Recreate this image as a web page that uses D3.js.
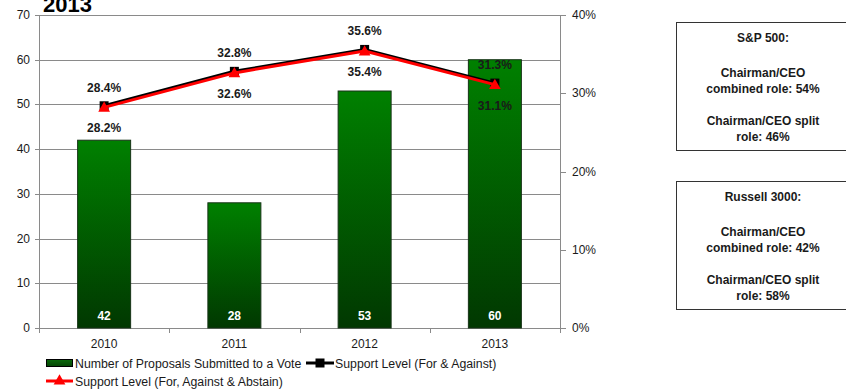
<!DOCTYPE html>
<html>
<head>
<meta charset="utf-8">
<script src="https://cdn.jsdelivr.net/npm/d3@7"></script>
<style>
  html, body { margin: 0; padding: 0; background: #fff; }
  svg { display: block; font-family: "Liberation Sans", Arial, sans-serif; }
</style>
</head>
<body>
<svg id="chart" width="846" height="390"></svg>
<script>
// Independent chair proposals by proxy year
const years = ["2010", "2011", "2012", "2013"];
const proposals = [42, 28, 53, 60];
const supportForAgainst = [28.4, 32.8, 35.6, 31.3];
const supportWithAbstain = [28.2, 32.6, 35.4, 31.1];
const countTicks = [0, 10, 20, 30, 40, 50, 60, 70];
const pctTicks = [0, 10, 20, 30, 40];

const seriesNames = [
  "Number of Proposals Submitted to a Vote",
  "Support Level (For & Against)",
  "Support Level (For, Against & Abstain)"
];

const boxTitles = ["S&P 500:", "Russell 3000:"];
const combinedRole = [54, 42];
const splitRole = [46, 58];

const svg = d3.select("#chart");
const plot = { left: 39, right: 560, top: 15, bottom: 328 };
const textColor = "#1a1a1a";
const gridColor = "#8a8a8a";

const x = d3.scaleBand().domain(years).range([plot.left, plot.right]).paddingInner(0).paddingOuter(0);
const yCount = d3.scaleLinear().domain([0, 70]).range([plot.bottom, plot.top]);
const yPct = d3.scaleLinear().domain([0, 40]).range([plot.bottom, plot.top]);

// gradients for bars and legend swatch
const defs = svg.append("defs");
const barGrad = defs.append("linearGradient").attr("id", "barGrad")
  .attr("x1", 0).attr("y1", 0).attr("x2", 0).attr("y2", 1);
barGrad.append("stop").attr("offset", "0%").attr("stop-color", "#008000");
barGrad.append("stop").attr("offset", "100%").attr("stop-color", "#013801");
const swGrad = defs.append("linearGradient").attr("id", "swGrad")
  .attr("x1", 0).attr("y1", 0).attr("x2", 0).attr("y2", 1);
swGrad.append("stop").attr("offset", "0%").attr("stop-color", "#0b6a0b");
swGrad.append("stop").attr("offset", "100%").attr("stop-color", "#044404");

// title fragment at top-left
svg.append("text").attr("x", 43).attr("y", 12)
  .attr("font-size", 22).attr("font-weight", "bold").attr("fill", "#000")
  .text("2013");

// horizontal gridlines (left scale), extended left as tick marks
svg.append("g").selectAll("line").data(countTicks).join("line")
  .attr("x1", plot.left - 4).attr("x2", plot.right)
  .attr("y1", d => Math.round(yCount(d)) + 0.5).attr("y2", d => Math.round(yCount(d)) + 0.5)
  .attr("stroke", gridColor).attr("stroke-width", 1);

// left axis labels
svg.append("g").selectAll("text").data(countTicks).join("text")
  .attr("x", plot.left - 9).attr("y", d => yCount(d) + 4)
  .attr("text-anchor", "end").attr("font-size", 12).attr("fill", textColor)
  .text(d => d);

// axis lines
svg.append("line").attr("x1", plot.left + 0.5).attr("x2", plot.left + 0.5)
  .attr("y1", plot.top).attr("y2", plot.bottom).attr("stroke", gridColor);
svg.append("line").attr("x1", plot.right + 0.5).attr("x2", plot.right + 0.5)
  .attr("y1", plot.top).attr("y2", plot.bottom).attr("stroke", gridColor);

// right axis ticks and labels
svg.append("g").selectAll("line").data(pctTicks).join("line")
  .attr("x1", plot.right).attr("x2", plot.right + 6)
  .attr("y1", d => Math.round(yPct(d)) + 0.5).attr("y2", d => Math.round(yPct(d)) + 0.5)
  .attr("stroke", gridColor);
svg.append("g").selectAll("text").data(pctTicks).join("text")
  .attr("x", plot.right + 12).attr("y", d => yPct(d) + 4)
  .attr("font-size", 12).attr("fill", textColor)
  .text(d => d + "%");

// category tick marks under the baseline
const bounds = years.map(d => x(d)).concat([plot.right]);
svg.append("g").selectAll("line").data(bounds).join("line")
  .attr("x1", d => Math.round(d) + 0.5).attr("x2", d => Math.round(d) + 0.5)
  .attr("y1", plot.bottom).attr("y2", plot.bottom + 5)
  .attr("stroke", gridColor);

// category labels
svg.append("g").selectAll("text").data(years).join("text")
  .attr("x", d => x(d) + x.bandwidth() / 2).attr("y", plot.bottom + 20)
  .attr("text-anchor", "middle").attr("font-size", 12).attr("fill", textColor)
  .text(d => d);

// bars
const barW = 53;
svg.append("g").selectAll("rect").data(proposals).join("rect")
  .attr("x", (d, i) => x(years[i]) + x.bandwidth() / 2 - barW / 2)
  .attr("y", d => yCount(d))
  .attr("width", barW)
  .attr("height", d => yCount(0) - yCount(d))
  .attr("fill", "url(#barGrad)")
  .attr("stroke", "#173317").attr("stroke-width", 1);

// bar value labels
svg.append("g").selectAll("text").data(proposals).join("text")
  .attr("x", (d, i) => x(years[i]) + x.bandwidth() / 2)
  .attr("y", plot.bottom - 8)
  .attr("text-anchor", "middle").attr("font-size", 12).attr("font-weight", "bold")
  .attr("fill", "#fff")
  .text(d => d);

// support lines
const cx = i => x(years[i]) + x.bandwidth() / 2;
const line = d3.line().x((d, i) => cx(i)).y(d => yPct(d));

svg.append("path").datum(supportForAgainst).attr("d", line)
  .attr("fill", "none").attr("stroke", "#000").attr("stroke-width", 3);
svg.append("g").selectAll("rect").data(supportForAgainst).join("rect")
  .attr("x", (d, i) => cx(i) - 4.5).attr("y", d => yPct(d) - 4.5)
  .attr("width", 9).attr("height", 9).attr("fill", "#000");

svg.append("path").datum(supportWithAbstain).attr("d", line)
  .attr("fill", "none").attr("stroke", "#ff0000").attr("stroke-width", 3);
const tri = d3.symbol().type(d3.symbolTriangle).size(60);
svg.append("g").selectAll("path").data(supportWithAbstain).join("path")
  .attr("d", tri)
  .attr("transform", (d, i) => `translate(${cx(i)},${yPct(d) + 1})`)
  .attr("fill", "#ff0000");

// line value labels
svg.append("g").selectAll("text").data(supportForAgainst).join("text")
  .attr("x", (d, i) => cx(i)).attr("y", d => yPct(d) - 14)
  .attr("text-anchor", "middle").attr("font-size", 12).attr("font-weight", "bold")
  .attr("fill", textColor)
  .text(d => d.toFixed(1) + "%");
svg.append("g").selectAll("text").data(supportWithAbstain).join("text")
  .attr("x", (d, i) => cx(i)).attr("y", d => yPct(d) + 25)
  .attr("text-anchor", "middle").attr("font-size", 12).attr("font-weight", "bold")
  .attr("fill", textColor)
  .text(d => d.toFixed(1) + "%");

// legend
const lg = svg.append("g").attr("font-size", 12.3).attr("fill", textColor);
lg.append("rect").attr("x", 46.5).attr("y", 359.5).attr("width", 26).attr("height", 7)
  .attr("fill", "url(#swGrad)").attr("stroke", "#000");
lg.append("text").attr("x", 75).attr("y", 368).text(seriesNames[0]);

lg.append("line").attr("x1", 306).attr("x2", 334).attr("y1", 363).attr("y2", 363)
  .attr("stroke", "#000").attr("stroke-width", 3);
lg.append("rect").attr("x", 315.5).attr("y", 358.5).attr("width", 9).attr("height", 9).attr("fill", "#000");
lg.append("text").attr("x", 335).attr("y", 368).text(seriesNames[1]);

lg.append("line").attr("x1", 46).attr("x2", 73).attr("y1", 381).attr("y2", 381)
  .attr("stroke", "#ff0000").attr("stroke-width", 3);
lg.append("path").attr("d", tri).attr("transform", "translate(59.5,381)").attr("fill", "#ff0000");
lg.append("text").attr("x", 75).attr("y", 386).text(seriesNames[2]);

// index composition boxes
const boxTops = [22, 181];
boxTitles.forEach((t, i) => {
  const top = boxTops[i];
  const g = svg.append("g");
  g.append("rect").attr("x", 676.5).attr("y", top + 0.5).attr("width", 180).attr("height", 128)
    .attr("fill", "#fff").attr("stroke", "#333").attr("stroke-width", 1);
  const lines = [
    [t, 20],
    ["Chairman/CEO", 55],
    [`combined role: ${combinedRole[i]}%`, 71],
    ["Chairman/CEO split", 103],
    [`role: ${splitRole[i]}%`, 119]
  ];
  g.selectAll("text").data(lines).join("text")
    .attr("x", 763).attr("y", d => top + d[1])
    .attr("text-anchor", "middle").attr("font-size", 12).attr("font-weight", "bold")
    .attr("fill", textColor)
    .text(d => d[0]);
});
</script>
</body>
</html>
